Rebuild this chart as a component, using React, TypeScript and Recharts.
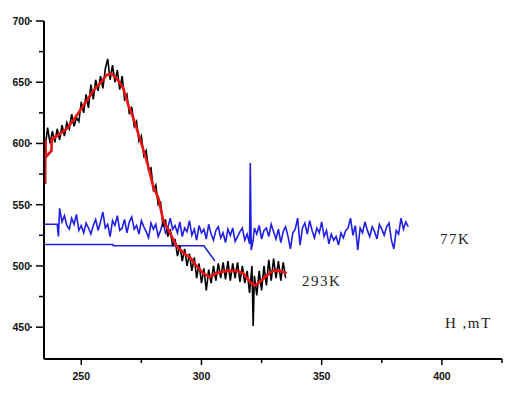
import React from 'react';
import { LineChart, Line, XAxis, YAxis } from 'recharts';

// field (mT) / signal pairs
const trace293Raw: [number, number][] = [
  [234.7, 598], [235, 597], [236, 613], [237, 600], [238, 610], [239, 601], [240, 612], [241, 603],
  [242, 615], [243, 606], [244, 617], [245, 612], [246, 624], [247, 614], [248, 621], [249, 618],
  [250, 634], [251, 625], [252, 640], [253, 629], [254, 648], [255, 636], [256, 652], [257, 643],
  [258, 655], [259, 645], [260, 661], [261, 669], [262, 652], [263, 664], [264, 650], [265, 660],
  [266, 644], [267, 655], [268, 636], [269, 640], [270, 624], [271, 630], [272, 614], [273, 618],
  [274, 602], [275, 606], [276, 590], [277, 594], [278, 578], [279, 580], [280, 562], [281, 566],
  [282, 550], [283, 552], [284, 532], [285, 538], [286, 524], [287, 530], [288, 516], [289, 522],
  [290, 508], [291, 517], [292, 504], [293, 514], [294, 500], [295, 510], [296, 496], [297, 507],
  [298, 490], [299, 502], [300, 486], [301, 498], [302, 480], [303, 497], [304, 486], [305, 500],
  [306, 488], [307, 502], [308, 490], [309, 503], [310, 489], [311, 504], [312, 488], [313, 502],
  [314, 490], [315, 503], [316, 487], [317, 500], [318, 486], [319, 496], [320, 478], [321, 500],
  [321.5, 451], [322, 492], [323, 476], [324, 496], [325, 480], [326, 500], [327, 484], [328, 505],
  [329, 488], [330, 506], [331, 490], [332, 504], [333, 488], [334, 503], [335, 490],
];

const trace293Smooth: [number, number][] = [
  [235.0, 567], [235.1, 603], [235.3, 589], [237.6, 594], [237.7, 604], [238.4, 604], [241.2, 608],
  [243.9, 612], [246.7, 619], [249.5, 627], [252.3, 635], [255, 643], [257.8, 649], [260.6, 656],
  [262.6, 657], [264.7, 653], [267.5, 645], [269.6, 631], [271.6, 621], [273.7, 608], [275.8, 595],
  [277.9, 581], [280, 564], [282, 556], [284.1, 537], [286.9, 527], [289.7, 516], [292.4, 511],
  [295.2, 507], [298, 500], [300.7, 494], [303.5, 491], [306.3, 494], [310.5, 496], [314.6, 496],
  [317.4, 494], [320.2, 487], [322.2, 484], [324.3, 487], [327.1, 492], [329.8, 496], [332.6, 496],
  [335.4, 494],
];

const trace77: [number, number][] = [
  [234.5, 534], [240, 534], [240.5, 524], [241, 547], [242, 536], [243, 541], [244, 533], [245, 530],
  [246, 539], [247, 534], [248, 542], [249, 529], [250, 533], [251, 527], [252, 535], [253, 531],
  [254, 526], [255, 533], [256, 538], [257, 529], [258, 536], [259, 544], [260, 531], [261, 534],
  [262, 524], [263, 537], [264, 533], [265, 541], [266, 529], [267, 531], [268, 538], [269, 527],
  [270, 536], [271, 540], [272, 530], [273, 533], [274, 526], [275, 537], [276, 532], [277, 528],
  [278, 523], [279, 535], [280, 530], [281, 534], [282, 524], [283, 529], [284, 536], [285, 527],
  [286, 531], [287, 539], [288, 530], [289, 533], [290, 527], [291, 536], [292, 524], [293, 531],
  [294, 528], [295, 537], [296, 525], [297, 530], [298, 521], [299, 533], [300, 527], [301, 530],
  [302, 522], [303, 534], [304, 526], [305, 521], [306, 529], [307, 532], [308, 523], [309, 527],
  [310, 519], [311, 530], [312, 525], [313, 531], [314, 520], [315, 524], [316, 528], [317, 531],
  [318, 521], [319, 526], [320, 518], [320.3, 584], [320.7, 513], [321.5, 521], [322, 531],
  [323, 526], [324, 533], [325, 522], [326, 529], [327, 531], [328, 524], [329, 534], [330, 528],
  [331, 522], [332, 530], [333, 519], [334, 528], [335, 532], [336, 524], [337, 514], [338, 527],
  [339, 530], [340, 539], [341, 517], [342, 531], [343, 535], [344, 526], [345, 537], [346, 529],
  [347, 523], [348, 531], [349, 527], [350, 536], [351, 524], [352, 529], [353, 518], [354, 526],
  [355, 521], [356, 524], [357, 517], [358, 527], [359, 523], [360, 529], [361, 531], [362, 539],
  [363, 525], [364, 533], [365, 513], [366, 531], [367, 527], [368, 536], [369, 529], [370, 524],
  [371, 532], [372, 528], [373, 522], [374, 534], [375, 530], [376, 525], [377, 532], [378, 535],
  [379, 521], [380, 514], [381, 529], [382, 526], [383, 539], [384, 530], [385, 536], [386, 532],
];

const baseline77: [number, number][] = [
  [234.5, 517.5], [263.2, 517.5], [263.3, 516.5], [301, 516.5], [305.6, 504],
];

const xTicks = [250, 275, 300, 325, 350, 375, 400, 425];
const xLabels = [250, 300, 350, 400];
const yTicks = [450, 475, 500, 525, 550, 575, 600, 625, 650, 675, 700];
const yLabels = [450, 500, 550, 600, 650, 700];

const toPoints = (rows: [number, number][]) => rows.map(([h, v]) => ({ h, v }));

const tickFont = { fontFamily: '"Liberation Sans", Arial, sans-serif', fontSize: 10.5, fontWeight: 700 };

const YTick = (props: any) => {
  const { x, y, payload } = props;
  const major = yLabels.includes(payload.value);
  return (
    <g>
      <line x1={x - (major ? 8 : 5)} x2={x} y1={y} y2={y} stroke="#000" strokeWidth={1.5} />
      {major && (
        <>
          <line x1={x - 14} x2={x - 12} y1={y} y2={y} stroke="#000" strokeWidth={1.5} />
          <text x={x - 14} y={y} dy={4} textAnchor="end" fill="#111" style={tickFont}>
            {payload.value}
          </text>
        </>
      )}
    </g>
  );
};

const XTick = (props: any) => {
  const { x, y, payload } = props;
  const major = xLabels.includes(payload.value);
  return (
    <g>
      <line x1={x} x2={x} y1={y} y2={y + (major ? 6 : 4)} stroke="#000" strokeWidth={1.5} />
      {major && (
        <text x={x} y={y + 21} textAnchor="middle" fill="#111" style={tickFont}>
          {payload.value}
        </text>
      )}
    </g>
  );
};

const noteStyle: React.CSSProperties = {
  position: 'absolute',
  fontFamily: '"Liberation Serif", "Times New Roman", serif',
  fontSize: 15,
  color: '#222',
  letterSpacing: 1.5,
  lineHeight: '16px',
  whiteSpace: 'nowrap',
};

export default function App() {
  return (
    <div style={{ position: 'absolute', left: 0, top: 0, width: 511, height: 403, background: '#fff' }}>
      <LineChart width={511} height={403} margin={{ top: 21, right: 9, bottom: 14, left: 4 }}>
        <XAxis
          type="number"
          dataKey="h"
          domain={[234.5, 425]}
          ticks={xTicks}
          allowDataOverflow
          height={30}
          axisLine={{ stroke: '#000', strokeWidth: 2 }}
          tickLine={false}
          tickSize={0}
          tickMargin={0}
          tick={<XTick />}
          interval={0}
        />
        <YAxis
          type="number"
          dataKey="v"
          domain={[424, 700]}
          ticks={yTicks}
          allowDataOverflow
          width={40}
          axisLine={{ stroke: '#000', strokeWidth: 2 }}
          tickLine={false}
          tickSize={0}
          tickMargin={0}
          tick={<YTick />}
          interval={0}
        />
        <Line data={toPoints(baseline77)} dataKey="v" stroke="#1f1fe6" strokeWidth={1.5} dot={false} isAnimationActive={false} />
        <Line data={toPoints(trace77)} dataKey="v" stroke="#1f1fe6" strokeWidth={1.6} dot={false} isAnimationActive={false} />
        <Line data={toPoints(trace293Raw)} dataKey="v" stroke="#000" strokeWidth={1.6} dot={false} isAnimationActive={false} />
        <Line data={toPoints(trace293Smooth)} dataKey="v" stroke="#ee1111" strokeWidth={2.6} dot={false} isAnimationActive={false} />
      </LineChart>
      <div style={{ ...noteStyle, left: 440, top: 231 }}>77K</div>
      <div style={{ ...noteStyle, left: 302, top: 273 }}>293K</div>
      <div style={{ ...noteStyle, left: 445, top: 315 }}>H ,mT</div>
    </div>
  );
}
